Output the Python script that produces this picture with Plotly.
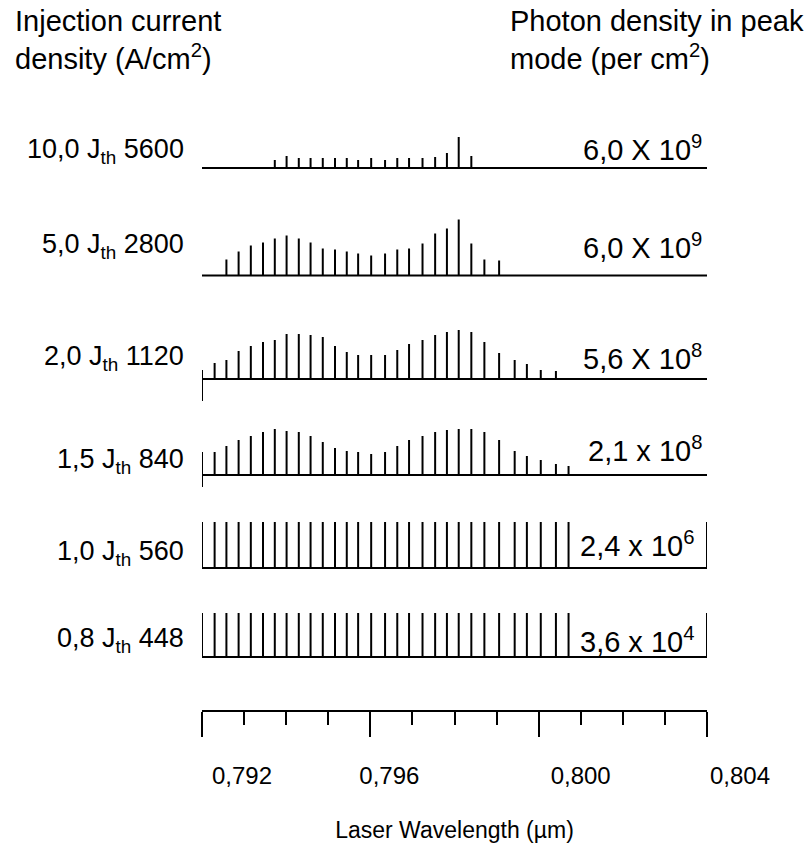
import plotly.graph_objects as go

# ---------------- data ----------------
mode_wavelength_um = [0.79200, 0.79230, 0.79258, 0.79287, 0.79316, 0.79345, 0.79373, 0.79401,
                      0.79430, 0.79458, 0.79487, 0.79516, 0.79544, 0.79571, 0.79602, 0.79635,
                      0.79664, 0.79692, 0.79724, 0.79754, 0.79782, 0.79810, 0.79840, 0.79871,
                      0.79906, 0.79943, 0.79972, 0.80005, 0.80041, 0.80071]

current_labels = ["10,0 J<sub>th</sub> 5600", "5,0 J<sub>th</sub> 2800", "2,0 J<sub>th</sub> 1120",
                  "1,5 J<sub>th</sub> 840", "1,0 J<sub>th</sub> 560", "0,8 J<sub>th</sub> 448"]
photon_labels = ["6,0 X 10<sup>9</sup>", "6,0 X 10<sup>9</sup>", "5,6 X 10<sup>8</sup>",
                 "2,1 x 10<sup>8</sup>", "2,4 x 10<sup>6</sup>", "3,6 x 10<sup>4</sup>"]

# relative mode intensities (arb. units), None = no mode
intensity_10_0 = [None] * 6 + [8, 12, 10, 10, 10, 10, 10, 8, 10, 8, 10, 10, 10, 11, 15, 31, 12] + [None] * 7
intensity_5_0 = [None] * 2 + [16, 24, 30, 33, 37, 40, 37, 33, 27, 26, 24, 22, 20, 22, 26, 27, 32,
                              42, 47, 56, 32, 16, 15] + [None] * 5
intensity_2_0 = [9, 16, 19, 28, 33, 37, 39, 45, 45, 44, 42, 33, 27, 24, 24, 24, 29, 35, 39, 44,
                 47, 49, 47, 37, 26, 19, 15, 9, 8, None]
intensity_1_5 = [23, 23, 29, 35, 39, 43, 46, 44, 43, 39, 33, 27, 24, 23, 21, 23, 29, 35, 39, 43,
                 45, 46, 46, 43, 35, 24, 19, 15, 11, 9]
intensity_1_0 = [46] * 30
intensity_0_8 = [44] * 30

spectra = [intensity_10_0, intensity_5_0, intensity_2_0, intensity_1_5, intensity_1_0, intensity_0_8]

tick_values = [0.792, 0.796, 0.800, 0.804]
tick_labels = ["0,792", "0,796", "0,800", "0,804"]
x_range = [0.792, 0.804]

# ---------------- layout constants (pixels) ----------------
W, H = 812, 848
PL, PR = 202, 707          # axis left/right
PB = 710                   # axis line
LABEL_R = 790              # right end of the label axis domain
PX_PER_UM = (PR - PL) / (x_range[1] - x_range[0])

row_base_px = [168, 275.5, 379, 475, 568, 657]
left_label_px = [151, 246, 358, 461, 553, 640]
right_label_px = [148, 246, 357, 449, 544, 640]
right_label_x = [704, 704, 704, 704, 696, 696]
label_shift_px = [40, 19, 42, 33]   # tick labels sit right of the ticks in the original


def yv(px):
    return PB - px


def xp(px):
    return px / W


FONT = "Liberation Sans, Arial, sans-serif"

fig = go.Figure()

for spec, base in zip(spectra, row_base_px):
    b = yv(base)
    xs, ys = [x_range[0], x_range[1], None], [b, b, None]
    for w, h in zip(mode_wavelength_um, spec):
        if h is None:
            continue
        xs += [w, w, None]
        ys += [b, b + h, None]
    fig.add_trace(go.Scatter(x=xs, y=ys, mode="lines", line=dict(color="black", width=2),
                             hoverinfo="skip", showlegend=False, cliponaxis=False))

# frame remnants of the original drawing
frame = [
    (x_range[0], 379, 379 + 22),
    (x_range[0], 475, 475 + 12),
    (x_range[1], 568, 568 - 46),
    (x_range[1], 657, 657 - 44),
]
for x, y0, y1 in frame:
    fig.add_shape(type="line", xref="x", yref="y", x0=x, x1=x, y0=yv(y0), y1=yv(y1),
                  line=dict(color="black", width=2))

# label axis (same scale as the wavelength axis, wider domain)
label_range = [x_range[0], x_range[0] + (LABEL_R - PL) / PX_PER_UM]
label_pos = [v + s / PX_PER_UM for v, s in zip(tick_values, label_shift_px)]
fig.add_trace(go.Scatter(x=label_pos, y=[0] * 4, xaxis="x2", mode="markers",
                         marker=dict(opacity=0), hoverinfo="skip", showlegend=False))

for txt, py_ in zip(current_labels, left_label_px):
    fig.add_annotation(text=txt, xref="paper", yref="y", x=xp(186), y=yv(py_),
                       xanchor="right", yanchor="middle", showarrow=False,
                       font=dict(size=27, color="black", family=FONT))
for txt, py_, px_ in zip(photon_labels, right_label_px, right_label_x):
    fig.add_annotation(text=txt, xref="paper", yref="y", x=xp(px_), y=yv(py_),
                       xanchor="right", yanchor="middle", showarrow=False,
                       font=dict(size=29, color="black", family=FONT))

fig.add_annotation(text="Injection current<br>density (A/cm<sup>2</sup>)", xref="paper", yref="y",
                   x=xp(13), y=yv(3), xanchor="left", yanchor="top", align="left", showarrow=False,
                   font=dict(size=29, color="black", family=FONT))
fig.add_annotation(text="Photon density in peak<br>mode (per cm<sup>2</sup>)", xref="paper", yref="y",
                   x=xp(508), y=yv(3), xanchor="left", yanchor="top", align="left", showarrow=False,
                   font=dict(size=29, color="black", family=FONT))

fig.update_layout(
    width=W, height=H,
    margin=dict(l=0, r=0, t=0, b=0, pad=0),
    plot_bgcolor="rgba(0,0,0,0)", paper_bgcolor="white",
    font=dict(family=FONT, color="black", size=24),
    separators=",.",
    xaxis=dict(domain=[PL / W, PR / W], range=x_range, tickvals=tick_values, showticklabels=False,
               ticks="outside", ticklen=25, tickwidth=2, tickcolor="black",
               showline=True, linecolor="black", linewidth=2, showgrid=False, zeroline=False,
               minor=dict(dtick=0.001, ticks="outside", ticklen=13, tickwidth=2, tickcolor="black",
                          showgrid=False),
               title=dict(text="Laser Wavelength (µm)", font=dict(size=23, family=FONT),
                          standoff=86)),
    xaxis2=dict(domain=[PL / W, LABEL_R / W], range=label_range, anchor="y",
                tickvals=label_pos, ticktext=tick_labels, ticks="", showline=False,
                showgrid=False, zeroline=False, ticklabelstandoff=49,
                tickfont=dict(size=24, family=FONT)),
    yaxis=dict(domain=[(H - PB) / H, 1], range=[0, PB], visible=False, fixedrange=True),
)

fig.write_html("out.html")
